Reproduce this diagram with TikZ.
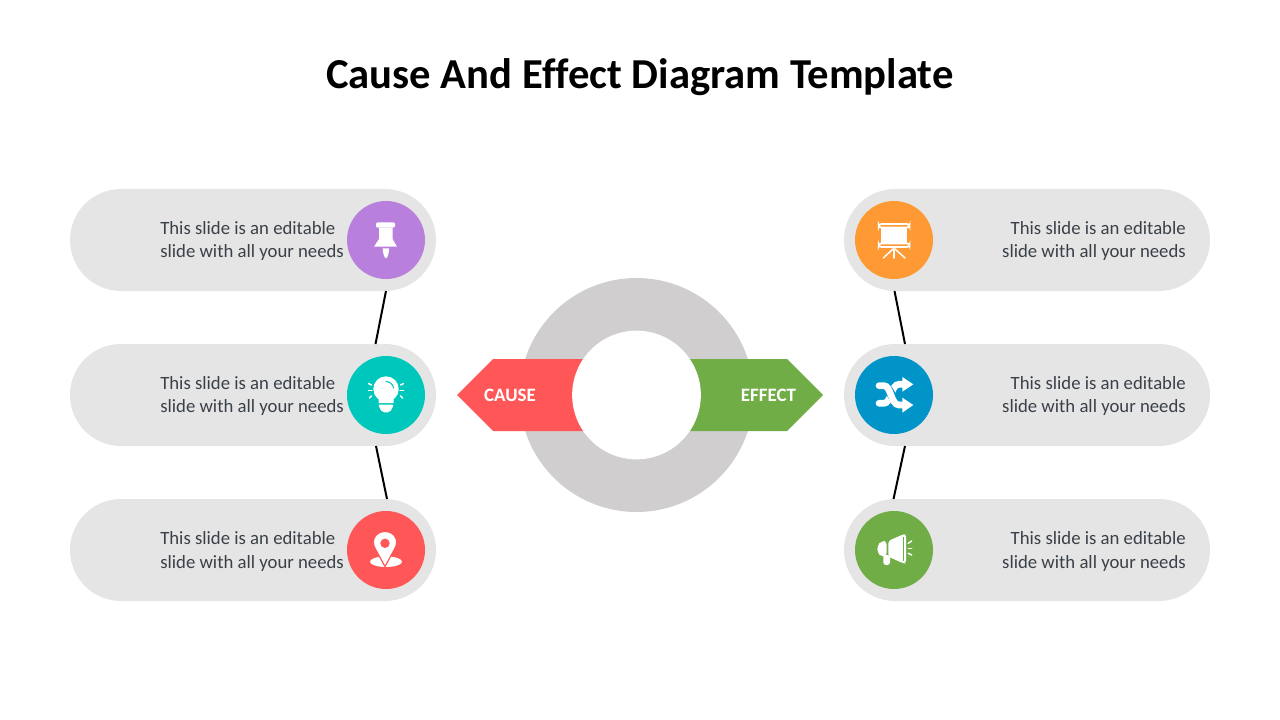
\documentclass[tikz,border=0pt]{standalone}
\usepackage{xcolor}
\usepackage{fontspec}
\setmainfont[Ligatures=NoCommon]{Carlito}
\definecolor{pillgray}{HTML}{E5E5E5}
\definecolor{ringgray}{HTML}{D0CECE}
\definecolor{causered}{HTML}{FF5757}
\definecolor{effectgreen}{HTML}{70AD47}
\definecolor{pinpurple}{HTML}{B97FDC}
\definecolor{bulbteal}{HTML}{00C7BC}
\definecolor{screenorange}{HTML}{FF9933}
\definecolor{shuffleblue}{HTML}{0094C8}
\definecolor{bodytext}{HTML}{3A4048}
\tikzset{
	pillbox/.style={fill=pillgray, minimum width=274.5pt, minimum height=76.5pt, rounded corners=38.25pt, inner sep=0pt},
	iconbadge/.style={circle, minimum size=58.5pt, inner sep=0pt},
	bodylabel/.style={text=bodytext, font=\fontsize{14.05}{17.25}\selectfont, inner sep=0pt},
	arrowlabel/.style={text=white, font=\fontsize{14.2}{17}\selectfont\bfseries, inner sep=0pt},
	link/.style={black, line width=1.5pt},
	ray/.style={white, line width=1.1pt, line cap=round}
}
\begin{document}
\begin{tikzpicture}[x=0.75pt, y=-0.75pt]
	\useasboundingbox (0,0) rectangle (1280,720);
	
	% Parameters
	\def\leftx{253}
	\def\rightx{1027}
	
	\node[font=\fontsize{32}{38}\selectfont\bfseries, inner sep=0pt] (title) at (640,77) {Cause And Effect Diagram Template};
	
	% pills left and right
	\foreach \name/\y/\shade in {one/240/pinpurple,two/395/bulbteal,three/550/causered} {
		\node[pillbox] (leftpill\name) at (\leftx,\y) {};
		\node[iconbadge, fill=\shade] (lefticon\name) at (386,\y) {};
		\node[bodylabel, anchor=west, align=left] (lefttext\name) at (160,\y+1.5) {This slide is an editable\\slide with all your needs};
	}
	\foreach \name/\y/\shade in {one/240/screenorange,two/395/shuffleblue,three/550/effectgreen} {
		\node[pillbox] (rightpill\name) at (\rightx,\y) {};
		\node[iconbadge, fill=\shade] (righticon\name) at (894,\y) {};
		\node[bodylabel, anchor=east, align=right] (righttext\name) at (1186,\y+1.5) {This slide is an editable\\slide with all your needs};
	}
	
	% links between pills
	\coordinate (lefta) at (386,291);
	\coordinate (leftb) at (375.5,344);
	\coordinate (leftc) at (376,446);
	\coordinate (leftd) at (387,499);
	\coordinate (righta) at (894.5,291);
	\coordinate (rightb) at (905,344);
	\coordinate (rightc) at (905,446);
	\coordinate (rightd) at (893.5,499);
	\draw[link] (lefta) -- (leftb);
	\draw[link] (leftc) -- (leftd);
	\draw[link] (righta) -- (rightb);
	\draw[link] (rightc) -- (rightd);
	
	% ring and arrows
	\node[circle, fill=ringgray, minimum size=175.5pt, inner sep=0pt] (ringouter) at (636.5,395) {};
	\fill[causered] (457,395) -- (493,359) -- (600,359) -- (600,431) -- (493,431) -- cycle;
	\fill[effectgreen] (823,395) -- (787,359) -- (670,359) -- (670,431) -- (787,431) -- cycle;
	\node[circle, fill=white, minimum size=96.5pt, inner sep=0pt] (ringinner) at (636.5,395) {};
	\node[arrowlabel] (causetext) at (510,395) {CAUSE};
	\node[arrowlabel] (effecttext) at (768.5,395) {EFFECT};
	
	% push pin
	\begin{scope}[shift={(lefticonone.center)}]
		\fill[white, rounded corners=1.5pt] (-10,-17.7) rectangle (9,-12.3);
		\fill[white] (-7,-12.3) -- (6.5,-12.3) -- (6.5,-1) -- (11,6.7) -- (-12,6.7) -- (-7,-1) -- cycle;
		\fill[white] (-3.3,8.3) -- (3.1,8.3) .. controls (3.1,13) and (1.5,18.3) .. (0,18.3) .. controls (-1.5,18.3) and (-3.3,13) .. cycle;
	\end{scope}
	
	% light bulb
	\begin{scope}[shift={(lefticontwo.center)}]
		\fill[white] (0,-6) circle (12.7);
		\fill[white] (-11.5,-1) -- (-7.5,4) -- (-7.5,8) -- (7.5,8) -- (7.5,4) -- (11.5,-1) -- cycle;
		\fill[white, rounded corners=1.5pt] (-8,9.5) -- (8,9.5) -- (4,17.3) -- (-4,17.3) -- cycle;
		\draw[bulbteal, line width=0.8pt, line cap=round] (0,-13.5) .. controls (4,-13.5) and (7,-10.5) .. (7.5,-7);
		\foreach \sx in {-1,1} {
			\draw[ray] (\sx*17.5,-11.5) -- (\sx*14.5,-10);
			\draw[ray] (\sx*17.5,-4.3) -- (\sx*14,-4.3);
			\draw[ray] (\sx*16.5,3) -- (\sx*14.5,0.8);
		}
	\end{scope}
	
	% location marker
	\begin{scope}[shift={(lefticonthree.center)}]
		\fill[white] (0,11.7) ellipse (16 and 5.3);
		\draw[causered, fill=white, line width=0.9pt, line join=round] (-1,16.5) -- (-10.6,-1) .. controls (-16,-10) and (-10,-18.5) .. (-1,-18.5) .. controls (8,-18.5) and (14,-10) .. (8.6,-1) -- cycle;
		\fill[causered] (-1,-6.7) circle (4.7);
	\end{scope}
	
	% presentation screen
	\begin{scope}[shift={(righticonone.center)}]
		\fill[white] (-13.3,-13) rectangle (13.3,4);
		\draw[white, fill=screenorange, line width=1.3pt, rounded corners=2pt] (-15.2,-16) rectangle (15.6,-12.4);
		\draw[white, fill=screenorange, line width=1.3pt, rounded corners=2pt] (-15.2,3.4) rectangle (15.6,7);
		\draw[ray] (-1,9) -- (-10.7,18);
		\draw[ray] (0,9) -- (0,18);
		\draw[ray] (1,9) -- (11,18);
	\end{scope}
	
	% shuffle arrows
	\begin{scope}[shift={(righticontwo.center)}]
		\draw[white, line width=5pt, line cap=round] (-15,8.3) -- (-10,8.3) .. controls (-3,8.3) and (-3,-10.7) .. (5,-10.7) -- (9,-10.7);
		\fill[white] (19.3,-10.7) -- (8.3,-18) -- (8.3,-3.3) -- cycle;
		\draw[shuffleblue, line width=6.5pt] (-7,-7) .. controls (-3,-3) and (-1,6) .. (5,8);
		\draw[white, line width=5pt, line cap=round] (-15,-9.3) -- (-10,-9.3) .. controls (-3,-9.3) and (-3,10) .. (5,10) -- (9,10);
		\fill[white] (19.3,10) -- (8.3,2.7) -- (8.3,17.7) -- cycle;
	\end{scope}
	
	% megaphone
	\begin{scope}[shift={(righticonthree.center)}]
		\fill[white, rounded corners=3pt] (-7.3,-9) -- (-12,-9) -- (-16.7,-5) -- (-16.7,3) -- (-12,6.7) -- (-7.3,6.7) -- cycle;
		\fill[white, rounded corners=2pt] (-10.7,5) rectangle (-4,15);
		\fill[white, rounded corners=2pt] (-5.7,-9) -- (9.3,-15.7) -- (12,-15.7) -- (12,13.3) -- (9.3,13.3) -- (-5.7,6.7) -- cycle;
		\draw[effectgreen, line width=1pt] (9.3,-13) -- (9.3,10.5);
		\draw[ray] (14.3,-6.7) -- (17.7,-9);
		\draw[ray] (14.3,-1.7) -- (17.7,-1.7);
		\draw[ray] (14.3,3.3) -- (17.7,5);
	\end{scope}
\end{tikzpicture}
\end{document}
